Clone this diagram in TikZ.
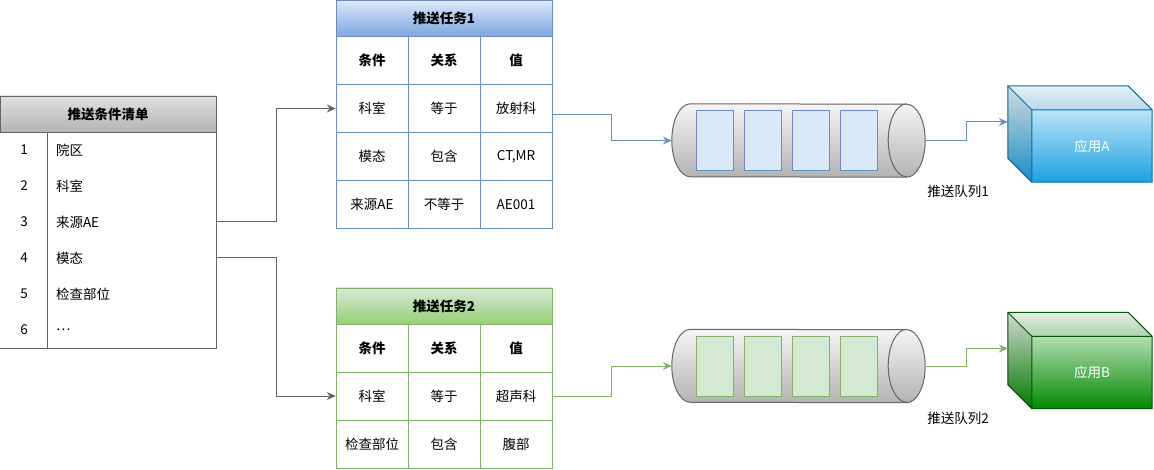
\documentclass[tikz,border=0pt]{standalone}
\usepackage{fontspec}
\setmainfont{Noto Sans CJK SC}
\usetikzlibrary{arrows.meta,calc}
\definecolor{blueline}{HTML}{6C8EBF}
\definecolor{bluefill}{HTML}{DAE8FC}
\definecolor{bluedark}{HTML}{7EA6E0}
\definecolor{greenline}{HTML}{82B366}
\definecolor{greenfill}{HTML}{D5E8D4}
\definecolor{greendark}{HTML}{97D077}
\definecolor{grayline}{HTML}{666666}
\definecolor{grayfill}{HTML}{F5F5F5}
\definecolor{graydark}{HTML}{B3B3B3}
\definecolor{appblue}{HTML}{1BA1E2}
\definecolor{appblueline}{HTML}{006EAF}
\definecolor{appgreen}{HTML}{008A00}
\definecolor{appgreenline}{HTML}{005700}

\tikzset{
  cell/.style={draw=#1, minimum width=72pt, minimum height=48pt, inner sep=0pt},
  head/.style 2 args={draw=#1, top color=#2!40!white, bottom color=#2, minimum width=216pt,
    minimum height=36pt, inner sep=0pt, font=\fontsize{13.5pt}{16pt}\selectfont\bfseries},
  listrow/.style={minimum height=36pt, inner xsep=8pt, inner ysep=0pt},
  conn/.style={->, draw=#1, line width=1pt},
  queuebox/.style={minimum width=253pt, minimum height=73pt, inner sep=0pt},
  slot/.style 2 args={draw=#1, fill=#2, line width=1pt, minimum width=37pt, minimum height=60pt, inner sep=0pt},
}

% cylinder drawn round a queue box node
\newcommand{\queuetube}[1]{%
  \path[draw=grayline, line width=1pt, top color=grayfill, bottom color=graydark]
    ([xshift=18.5pt]#1.north west) arc[start angle=90, end angle=270, x radius=18.5pt, y radius=36.5pt]
    -- ([xshift=-18.5pt]#1.south east) arc[start angle=270, end angle=450, x radius=18.5pt, y radius=36.5pt]
    -- cycle;
  \draw[grayline, line width=1pt] ([xshift=-18.5pt]#1.north east)
    arc[start angle=90, end angle=270, x radius=18.5pt, y radius=36.5pt];
}

% cube: box node, colour, line colour, label
\newcommand{\appcube}[4]{%
  \path[draw=#3, line width=1pt, top color=#2!6!white, bottom color=#2]
    (#1.north west) -- ([xshift=-24pt]#1.north east) -- ([yshift=-24pt]#1.north east)
    -- (#1.south east) -- ([xshift=24pt]#1.south west) -- ([yshift=24pt]#1.south west) -- cycle;
  \fill[black, fill opacity=.12] (#1.north west) -- ([xshift=24pt,yshift=-24pt]#1.north west)
    -- ([xshift=24pt]#1.south west) -- ([yshift=24pt]#1.south west) -- cycle;
  \fill[black, fill opacity=.04] (#1.north west) -- ([xshift=-24pt]#1.north east)
    -- ([yshift=-24pt]#1.north east) -- ([xshift=24pt,yshift=-24pt]#1.north west) -- cycle;
  \draw[#3, line width=1pt] (#1.north west) -- ([xshift=24pt,yshift=-24pt]#1.north west)
    -- ([yshift=-24pt]#1.north east)
    ([xshift=24pt,yshift=-24pt]#1.north west) -- ([xshift=24pt]#1.south west);
  \node[text=white] (#1text) at ([xshift=12pt,yshift=-12pt]#1.center) {#4};
}

\begin{document}
\begin{tikzpicture}[x=1pt,y=-1pt,>={Stealth[length=9pt,width=8pt]},
    font=\fontsize{13.5pt}{16pt}\selectfont]
  \useasboundingbox (0,0) rectangle (1154,470);

  % condition list
  \node[head={grayline}{graydark}] (lh) at (108,114) {推送条件清单};
  \foreach \kb [count=\ka] in {院区, 科室, 来源AE, 模态, 检查部位, \dots} {
    \node[listrow] (num\ka) at (24,114+36*\ka) {\ka};
    \node[listrow, text width=152pt, align=left] (item\ka) at (132,114+36*\ka) {\kb};
  }
  \draw[grayline, line width=1pt] (lh.south west) rectangle (item6.south east);
  \draw[grayline, line width=1pt] (item1.north west) -- (item6.south west);

  % task 1
  \node[head={blueline}{bluedark}, top color=bluefill] (t1) at (444,18.5) {推送任务1};
  \foreach \ka/\kb/\kc [count=\row from 0] in {条件/关系/值, 科室/等于/放射科,
      模态/包含/{CT,MR}, 来源AE/不等于/AE001} {
    \node[cell=blueline] (t1-\row-a) at (372,60.5+48*\row) {\ifnum\row=0 \bfseries\fi\ka};
    \node[cell=blueline] (t1-\row-b) at (444,60.5+48*\row) {\ifnum\row=0 \bfseries\fi\kb};
    \node[cell=blueline] (t1-\row-c) at (516,60.5+48*\row) {\ifnum\row=0 \bfseries\fi\kc};
  }
  \coordinate (t1out) at ($(t1.north east)!.5!(t1-3-c.south east)$);

  % task 2
  \node[head={greenline}{greendark}, top color=greenfill] (t2) at (444,306) {推送任务2};
  \foreach \ka/\kb/\kc [count=\row from 0] in {条件/关系/值, 科室/等于/超声科, 检查部位/包含/腹部} {
    \node[cell=greenline] (t2-\row-a) at (372,348+48*\row) {\ifnum\row=0 \bfseries\fi\ka};
    \node[cell=greenline] (t2-\row-b) at (444,348+48*\row) {\ifnum\row=0 \bfseries\fi\kb};
    \node[cell=greenline] (t2-\row-c) at (516,348+48*\row) {\ifnum\row=0 \bfseries\fi\kc};
  }

  % queues
  \node[queuebox] (q1) at (798.5,140.5) {};
  \node[queuebox] (q2) at (798.5,366) {};
  \queuetube{q1}
  \queuetube{q2}
  \foreach \i in {0,...,3} {
    \node[slot={blueline}{bluefill}] (q1s\i) at (714.5+48*\i,141) {};
    \node[slot={greenline}{greenfill}] (q2s\i) at (714.5+48*\i,366.5) {};
  }
  \node (q1name) at (958,191) {推送队列1};
  \node (q2name) at (958,418) {推送队列2};

  % applications
  \node[minimum width=144pt, minimum height=96pt, inner sep=0pt] (appA) at (1080,134) {};
  \node[minimum width=144pt, minimum height=96pt, inner sep=0pt] (appB) at (1080,360.5) {};
  \appcube{appA}{appblue}{appblueline}{应用A}
  \appcube{appB}{appgreen}{appgreenline}{应用B}

  % connectors
  \draw[conn=grayline] (item3.east) -- ++(60,0) |- (t1-1-a.west);
  \draw[conn=grayline] (item4.east) -- ++(60,0) |- (t2-1-a.west);
  \draw[conn=blueline] (t1out) -- ++(59.5,0) |- (q1.west);
  \draw[conn=greenline] (t2-1-c.east) -- ++(59.5,0) |- (q2.west);
  \draw[conn=blueline] (q1.east) -- ++(41.5,0) |- ([yshift=12pt]appA.west);
  \draw[conn=greenline] (q2.east) -- ++(41.5,0) |- ([yshift=12pt]appB.west);
\end{tikzpicture}
\end{document}
